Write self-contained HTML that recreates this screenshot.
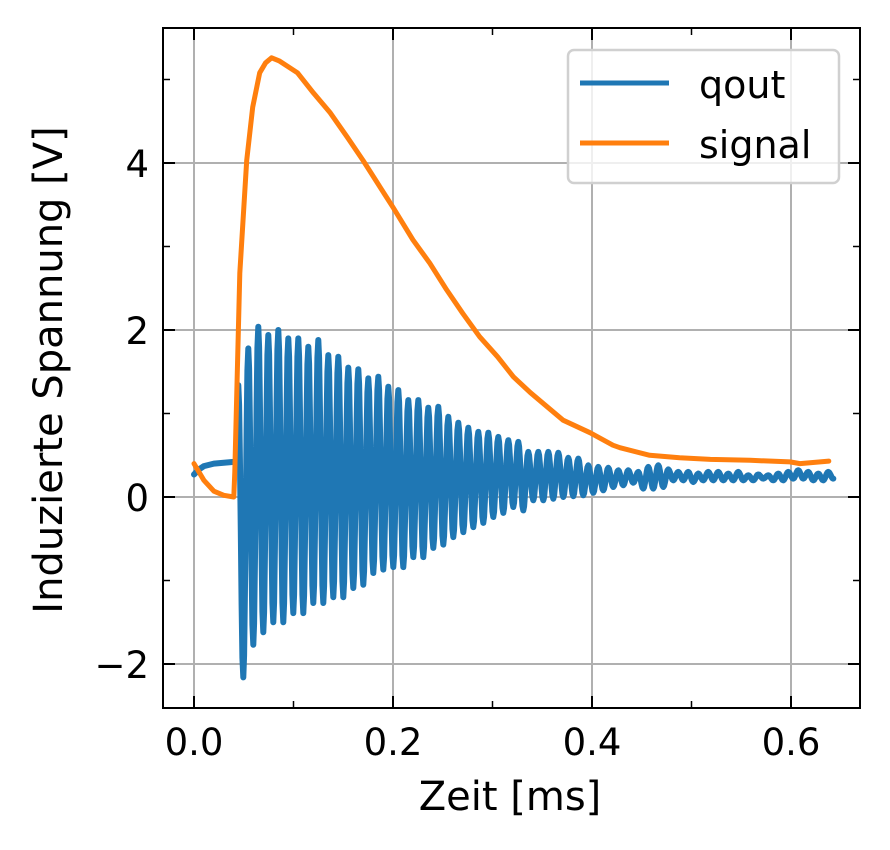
<!DOCTYPE html>
<html><head><meta charset="utf-8"><style>
body{margin:0;background:#fff;}
svg{display:block;font-family:"DejaVu Sans","Liberation Sans",sans-serif;}
</style></head><body>
<svg id="chart" width="890" height="850" viewBox="0 0 890 850" xmlns="http://www.w3.org/2000/svg">
<g id="grid"></g>
<g id="series"></g>
<rect x="163" y="28" width="697" height="680" fill="none" stroke="#000" stroke-width="2"/>
<g id="ticks"></g>
<text x="510" y="810" font-size="40" text-anchor="middle">Zeit [ms]</text>
<text x="0" y="0" font-size="40" text-anchor="middle" transform="translate(62,370) rotate(-90)">Induzierte Spannung [V]</text>
<g>
<rect x="568" y="50" width="271" height="133" rx="6" fill="#fff" fill-opacity="0.8" stroke="#d0d0d0" stroke-width="2.5"/>
<line x1="580" y1="83" x2="669" y2="83" stroke="#1f77b4" stroke-width="5"/>
<text x="699" y="98" font-size="38">qout</text>
<line x1="580" y1="143" x2="669" y2="143" stroke="#ff7f0e" stroke-width="5"/>
<text x="699" y="158" font-size="38">signal</text>
</g>
</svg>
<script>
const xTicks=[0.0,0.2,0.4,0.6];
const xTickLabels=["0.0","0.2","0.4","0.6"];
const xMinor=[0.1,0.3,0.5];
const yTicks=[-2,0,2,4];
const yTickLabels=["\u22122","0","2","4"];
const yMinor=[-1,1,3,5];
// qout: pre-trigger baseline
const qPreT=[0.0,0.005,0.01,0.02,0.03,0.04,0.043];
const qPreV=[0.27,0.33,0.37,0.40,0.41,0.42,0.42];
// qout oscillation envelope per cycle
const qStart=0.0445, qPeriod=0.01005;
const qUpper=[1.34,1.78,2.04,1.94,2.0,1.9,1.9,1.8,1.88,1.7,1.68,1.55,1.53,1.42,1.44,1.32,1.28,1.16,1.16,1.07,1.08,0.96,0.89,0.83,0.78,0.77,0.72,0.68,0.66,0.54,0.54,0.54,0.53,0.47,0.46,0.38,0.36,0.35,0.32,0.32,0.3,0.36,0.38,0.33,0.3,0.3,0.28,0.3,0.3,0.28,0.3,0.26,0.27,0.26,0.28,0.3,0.32,0.3,0.28,0.3];
const qLower=[-2.16,-1.77,-1.62,-1.5,-1.5,-1.39,-1.39,-1.27,-1.27,-1.2,-1.2,-1.09,-1.05,-0.91,-0.87,-0.84,-0.84,-0.72,-0.72,-0.61,-0.57,-0.48,-0.42,-0.36,-0.31,-0.24,-0.19,-0.12,-0.16,-0.04,-0.04,-0.02,0,0.01,0.02,0.05,0.08,0.12,0.14,0.17,0.1,0.1,0.12,0.2,0.2,0.18,0.2,0.2,0.2,0.2,0.2,0.2,0.22,0.2,0.2,0.22,0.22,0.2,0.2,0.22];
// signal
const sigT=[0.0,0.01,0.02,0.03,0.04,0.041,0.046,0.053,0.059,0.066,0.072,0.078,0.086,0.104,0.120,0.137,0.154,0.170,0.187,0.200,0.220,0.237,0.254,0.270,0.287,0.305,0.321,0.338,0.355,0.371,0.398,0.421,0.428,0.458,0.488,0.519,0.559,0.599,0.609,0.638];
const sigV=[0.4,0.2,0.07,0.02,0.0,0.3,2.68,4.03,4.67,5.08,5.2,5.26,5.22,5.08,4.84,4.6,4.31,4.03,3.71,3.47,3.08,2.8,2.48,2.2,1.92,1.68,1.44,1.25,1.08,0.92,0.77,0.62,0.59,0.5,0.47,0.45,0.44,0.42,0.4,0.43];

const X=t=>194+t*995, Y=v=>497-v*83.5;
const NS="http://www.w3.org/2000/svg";
function mk(tag,attrs,parent){const e=document.createElementNS(NS,tag);for(const k in attrs)e.setAttribute(k,attrs[k]);parent.appendChild(e);return e;}
const grid=document.getElementById('grid'),ticks=document.getElementById('ticks'),series=document.getElementById('series');
xTicks.forEach((t,i)=>{
 const g=mk('line',{x1:X(t),x2:X(t),y1:28,y2:708,stroke:'#b0b0b0','stroke-width':2},grid);
 
 
 mk('line',{x1:X(t),x2:X(t),y1:708,y2:696,stroke:'#000','stroke-width':2},ticks);
 mk('line',{x1:X(t),x2:X(t),y1:28,y2:40,stroke:'#000','stroke-width':2},ticks);
 const l=mk('text',{x:X(t),y:755,'font-size':37,'text-anchor':'middle'},ticks);l.textContent=xTickLabels[i];
 
 
});
xMinor.forEach(t=>{mk('line',{x1:X(t),x2:X(t),y1:708,y2:701,stroke:'#000','stroke-width':1.5},ticks);mk('line',{x1:X(t),x2:X(t),y1:28,y2:35,stroke:'#000','stroke-width':1.5},ticks);});
yTicks.forEach((v,i)=>{
 const g=mk('line',{x1:163,x2:860,y1:Y(v),y2:Y(v),stroke:'#b0b0b0','stroke-width':2},grid);
 
 
 mk('line',{x1:163,x2:175,y1:Y(v),y2:Y(v),stroke:'#000','stroke-width':2},ticks);
 mk('line',{x1:848,x2:860,y1:Y(v),y2:Y(v),stroke:'#000','stroke-width':2},ticks);
 const l=mk('text',{x:149,y:Y(v)+14,'font-size':37,'text-anchor':'end'},ticks);l.textContent=yTickLabels[i];
 
 
});
yMinor.forEach(v=>{mk('line',{x1:163,x2:170,y1:Y(v),y2:Y(v),stroke:'#000','stroke-width':1.5},ticks);mk('line',{x1:853,x2:860,y1:Y(v),y2:Y(v),stroke:'#000','stroke-width':1.5},ticks);});
// qout path: smooth cosine between consecutive extrema
let d='';
qPreT.forEach((t,i)=>{d+=(i?'L':'M')+X(t).toFixed(1)+','+Y(qPreV[i]).toFixed(1);});
const ext=[];
qUpper.forEach((u,k)=>{const t=qStart+k*qPeriod;ext.push([t,u]);ext.push([t+qPeriod/2,qLower[k]]);});
let prev=[qPreT[qPreT.length-1],qPreV[qPreV.length-1]];
ext.forEach(e=>{
 const N=6;
 for(let j=1;j<=N;j++){const f=j/N, c=(1-Math.cos(Math.PI*f))/2;
  const t=prev[0]+(e[0]-prev[0])*f, v=prev[1]+(e[1]-prev[1])*c;
  d+='L'+X(t).toFixed(1)+','+Y(v).toFixed(1);}
 prev=e;
});
const qp=mk('path',{d:d,fill:'none',stroke:'#1f77b4','stroke-width':6,'stroke-linejoin':'round','stroke-linecap':'round'},series);


let d2='';
sigT.forEach((t,i)=>{d2+=(i?'L':'M')+X(t).toFixed(1)+','+Y(sigV[i]).toFixed(1);});
const sp=mk('path',{d:d2,fill:'none',stroke:'#ff7f0e','stroke-width':5,'stroke-linejoin':'round','stroke-linecap':'round'},series);


</script>
</body></html>
